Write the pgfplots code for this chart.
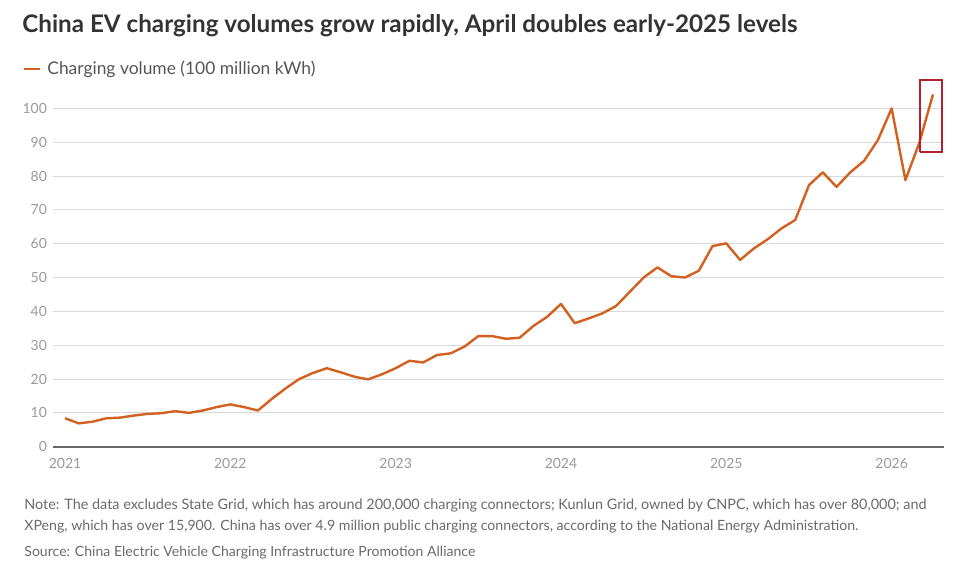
\documentclass[border=0pt]{standalone}
\usepackage{graphicx}
\usepackage{pgfplots}
\pgfplotsset{compat=1.18}
\usepackage{fontspec}
\setmainfont{Lato}
\definecolor{lineor}{HTML}{D2601F}
\definecolor{titlec}{HTML}{333333}
\definecolor{legc}{HTML}{555555}
\definecolor{tickc}{HTML}{9A9A9A}
\definecolor{notec}{HTML}{6A6A6A}
\definecolor{gridc}{HTML}{D9D9D9}
\definecolor{axc}{HTML}{666666}
\definecolor{boxc}{HTML}{B5202E}
\begin{document}
\begin{tikzpicture}
\path[use as bounding box] (0,0) rectangle (487.5pt,-282pt);
\node[anchor=base west, inner sep=0pt, text=titlec] at (11pt,-16.35pt)
  {\resizebox{387.5pt}{!}{\bfseries China EV charging volumes grow rapidly, April doubles early-2025 levels}};
\begin{axis}[
  at={(26.65pt,-223.35pt)}, anchor=south west,
  scale only axis, width=445.35pt, height=186.1pt,
  xmin=-0.85, xmax=63.8, ymin=0, ymax=110,
  ytick={0,10,...,100},
  xtick={0,12,24,36,48,60},
  xticklabels={2021,2022,2023,2024,2025,2026},
  axis x line=bottom, axis y line=left,
  x axis line style={draw=axc, line width=1pt, -},
  y axis line style={draw=none},
  major tick length=0pt,
  ymajorgrids, grid style={draw=gridc, line width=0.5pt},
  /pgf/number format/assume math mode=true,
  tick label style={font=\fontsize{7}{8}\selectfont, text=tickc},
  y tick label style={inner sep=0pt, anchor=east, xshift=-3pt},
  x tick label style={inner sep=0pt, anchor=north, yshift=-5.5pt},
  clip=false,
  legend style={draw=none, fill=none, inner sep=0pt, outer sep=0pt,
    at={(-0.0344,1.014)}, anchor=west, font=\fontsize{9}{10}\selectfont, text=legc,
    nodes={inner sep=0pt}},
  legend image code/.code={\draw[lineor, line width=1.2pt] (0pt,0pt) -- (8.3pt,0pt);},
]
\addplot[lineor, line width=1.2pt, line join=round] coordinates {
(0,8.4)(1,6.9)(2,7.4)(3,8.4)(4,8.6)(5,9.2)(6,9.7)(7,9.9)(8,10.5)(9,10.0)(10,10.7)(11,11.7)
(12,12.5)(13,11.7)(14,10.7)(15,14.1)(16,17.2)(17,20.0)(18,21.8)(19,23.2)(20,22.0)(21,20.7)(22,19.9)(23,21.4)
(24,23.2)(25,25.4)(26,24.9)(27,27.1)(28,27.6)(29,29.6)(30,32.7)(31,32.7)(32,31.9)(33,32.2)(34,35.7)(35,38.4)
(36,42.2)(37,36.5)(38,37.9)(39,39.4)(40,41.6)(41,45.8)(42,50.0)(43,53.0)(44,50.4)(45,50.0)(46,52.0)(47,59.3)
(48,60.1)(49,55.2)(50,58.6)(51,61.3)(52,64.5)(53,67.0)(54,77.3)(55,81.1)(56,76.8)(57,81.1)(58,84.5)(59,90.6)
(60,100.0)(61,78.8)(62,89.7)(63,104.1)
};
\addlegendentry{\hspace{2.85pt}\resizebox{134pt}{!}{Charging volume (100 million kWh)}}
\addplot[boxc, line width=1pt, forget plot] coordinates {(62.05,87.2)(63.64,87.2)(63.64,108.4)(62.05,108.4)(62.05,87.2)};
\end{axis}
\node[anchor=base west, inner sep=0pt, text=notec] at (12pt,-254.5pt)
  {\resizebox{451pt}{!}{Note: The data excludes State Grid, which has around 200,000 charging connectors; Kunlun Grid, owned by CNPC, which has over 80,000; and}};
\node[anchor=base west, inner sep=0pt, text=notec] at (12pt,-265pt)
  {\resizebox{417pt}{!}{XPeng, which has over 15,900. China has over 4.9 million public charging connectors, according to the National Energy Administration.}};
\node[anchor=base west, inner sep=0pt, text=notec] at (12pt,-278pt)
  {\resizebox{225.5pt}{!}{Source: China Electric Vehicle Charging Infrastructure Promotion Alliance}};
\end{tikzpicture}
\end{document}
